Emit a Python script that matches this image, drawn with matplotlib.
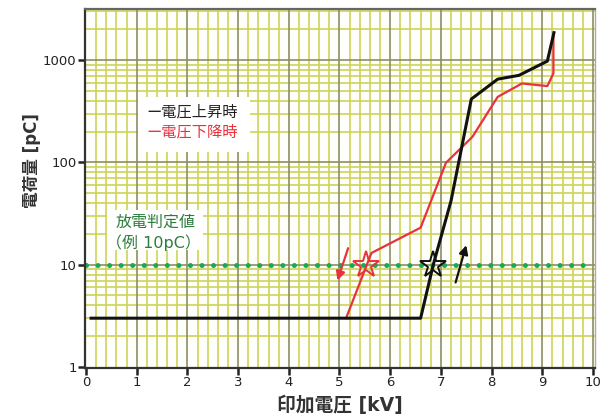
import numpy as np
import matplotlib.pyplot as plt
from matplotlib.patches import Rectangle
from matplotlib.ticker import FixedLocator, NullFormatter

plt.rcParams['font.family'] = ['DejaVu Sans', 'Noto Sans CJK JP']

# rising voltage (black) and falling voltage (red), kV vs pC
up_kv = [0.1, 6.6, 6.85, 7.2, 7.6, 8.12, 8.54, 9.1, 9.23]
up_pc = [3, 3, 10, 42, 415, 650, 708, 975, 1850]
down_kv = [5.13, 5.63, 6.6, 7.1, 7.62, 8.12, 8.6, 9.1, 9.22, 9.22]
down_pc = [3, 13, 23, 99, 177, 436, 590, 556, 740, 1800]

threshold = 10
threshold_kv = [0, 10]
star_up = (6.84, 10)
star_down = (5.53, 10)
arrow_down = [(5.17, 14.5), (4.96, 7.0)]
arrow_up = [(7.29, 6.7), (7.50, 15.5)]

xticks = list(range(0, 11))
yticks = [1, 10, 100, 1000]
ytick_labels = ['1', '10', '100', '1000']

fig = plt.figure(figsize=(6.08, 4.19), dpi=100)
ax = fig.add_axes([85/608, 51/419, 510/608, 359/419])
ax.set_facecolor('#fefefa')
ax.set_yscale('log')
ax.set_xlim(-0.02, 10.04)
ax.set_ylim(0.978, 3150)

# graph paper grid
minor_c = '#cfd35a'
major_c = '#8e8e62'
for xv in np.arange(0.2, 10.01, 0.2):
    if abs(xv - round(xv)) < 1e-6:
        continue
    ax.axvline(xv, color=minor_c, lw=1.2, zorder=0)
for xv in xticks[1:]:
    ax.axvline(xv, color=major_c, lw=1.2, zorder=0.5)
for dec in [1, 10, 100, 1000]:
    for m in range(2, 10):
        if dec * m < 3150:
            ax.axhline(dec * m, color=minor_c, lw=1.2, zorder=0)
for yv in yticks[1:]:
    ax.axhline(yv, color=major_c, lw=1.2, zorder=0.5)

# threshold line
ax.plot(threshold_kv, [threshold, threshold], color='#17a85a', lw=3.6,
        linestyle=(0, (0.01, 2.3)), dash_capstyle='round', zorder=2)

ax.plot(down_kv, down_pc, color='#e8323c', lw=1.6, zorder=3)
ax.plot(up_kv, up_pc, color='#111111', lw=2.2, zorder=4)

ax.plot(*star_down, marker='*', ms=20, mfc='none', mec='#e8323c', mew=1.4, zorder=5)
ax.plot(*star_up, marker='*', ms=20, mfc='none', mec='#111111', mew=1.4, zorder=5)

ax.annotate('', xy=arrow_down[1], xytext=arrow_down[0],
            arrowprops=dict(arrowstyle='-|>', color='#e8323c', lw=1.6,
                            mutation_scale=13, shrinkA=0, shrinkB=0))
ax.annotate('', xy=arrow_up[1], xytext=arrow_up[0],
            arrowprops=dict(arrowstyle='-|>', color='#111111', lw=1.6,
                            mutation_scale=13, shrinkA=0, shrinkB=0))

# legend box
ax.add_patch(Rectangle((0.104, 0.602), 0.22, 0.153, transform=ax.transAxes,
                       facecolor='white', edgecolor='none', zorder=6))
ax.text(0.121, 0.712, 'ー電圧上昇時', transform=ax.transAxes, fontsize=11,
        color='#222222', va='center', ha='left', zorder=7)
ax.text(0.121, 0.658, 'ー電圧下降時', transform=ax.transAxes, fontsize=11,
        color='#e8323c', va='center', ha='left', zorder=7)

# threshold note
ax.add_patch(Rectangle((0.043, 0.329), 0.188, 0.111, transform=ax.transAxes,
                       facecolor='white', edgecolor='none', zorder=6))
ax.text(0.138, 0.407, '放電判定値', transform=ax.transAxes, fontsize=11.5,
        color='#2b7d3c', va='center', ha='center', zorder=7)
ax.text(0.135, 0.348, '（例 10pC）', transform=ax.transAxes, fontsize=11.5,
        color='#2b7d3c', va='center', ha='center', zorder=7)

ax.yaxis.set_major_locator(FixedLocator(yticks))
ax.set_yticklabels(ytick_labels)
ax.yaxis.set_minor_formatter(NullFormatter())
ax.tick_params(axis='y', which='minor', length=0)
ax.set_xticks(xticks)
ax.tick_params(axis='both', which='major', direction='out', length=5, width=1.8,
               color='#222222', labelsize=9.5, pad=1, labelcolor='#222222')

for side in ['left', 'bottom']:
    ax.spines[side].set_color('#333333')
    ax.spines[side].set_linewidth(1.6)
ax.spines['top'].set_color('#666666')
ax.spines['top'].set_linewidth(1.6)
ax.spines['right'].set_color('#aaaaaa')
ax.spines['right'].set_linewidth(1.0)

fig.text(340/608, 1 - 405/419, '印加電圧 [kV]', fontsize=13.5, fontweight='bold',
         color='#333333', ha='center', va='center')
fig.text(32/608, 1 - 161/419, '電荷量 [pC]', fontsize=12, fontweight='bold',
         color='#333333', ha='center', va='center', rotation=90)

fig.savefig('out.png', dpi=100)
